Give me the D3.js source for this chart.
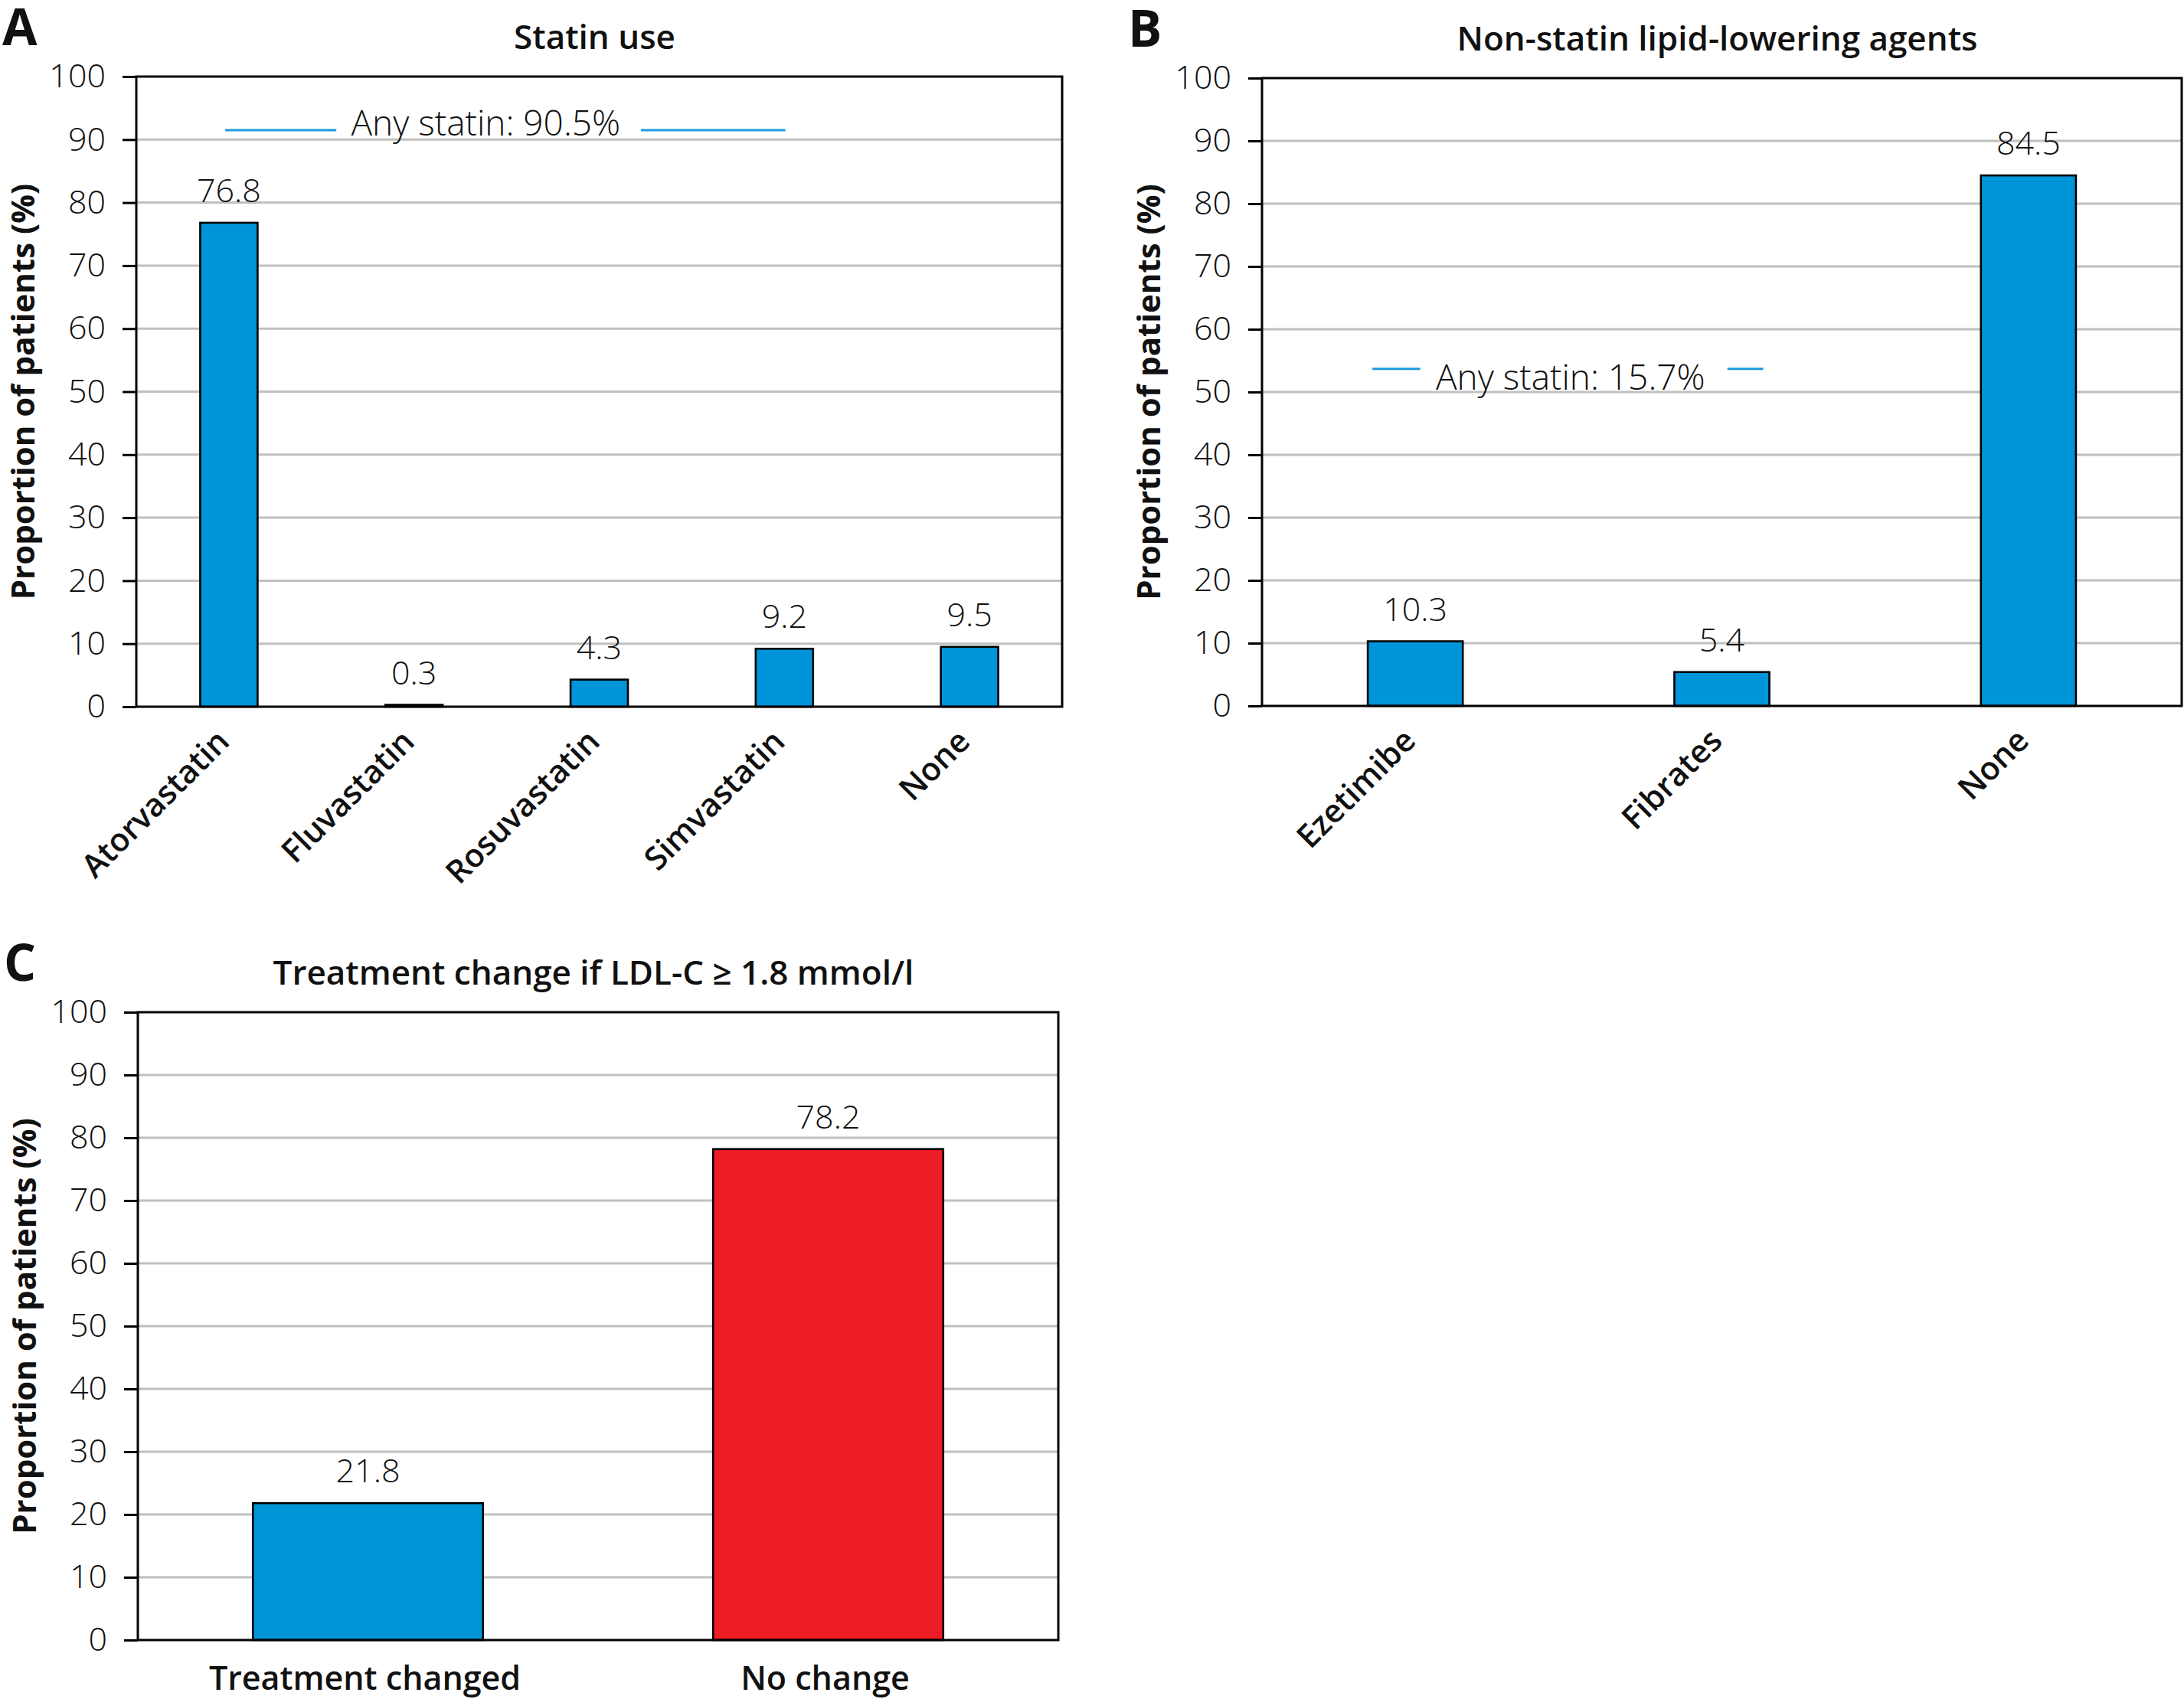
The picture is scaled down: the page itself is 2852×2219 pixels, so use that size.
<!DOCTYPE html>
<html>
<head>
<meta charset="utf-8">
<script src="https://cdn.jsdelivr.net/npm/d3@7"></script>
<style>
  body { margin: 0; background: #fff; }
  text { font-family: "Open Sans", sans-serif; fill: #111; }
</style>
</head>
<body>
<div id="chart"></div>
<script>
// values
var statinNames = ["Atorvastatin", "Fluvastatin", "Rosuvastatin", "Simvastatin", "None"];
var statinValues = [76.8, 0.3, 4.3, 9.2, 9.5];

var nonStatinNames = ["Ezetimibe", "Fibrates", "None"];
var nonStatinValues = [10.3, 5.4, 84.5];

var changeNames = ["Treatment changed", "No change"];
var changeValues = [21.8, 78.2];

var yTicks = [0, 10, 20, 30, 40, 50, 60, 70, 80, 90, 100];

var blue = "#0094d9", red = "#ed1c24", grid = "#c0c0c0", noteBlue = "#1b9bdb";

var width = 2852, height = 2219;

var svg = d3.select("#chart").append("svg")
    .attr("width", width)
    .attr("height", height);

function panel(p) {
    var g = svg.append("g");

    var x = d3.scaleBand()
        .domain(p.names)
        .range([p.x0, p.x1])
        .paddingInner(1 - p.barFrac)
        .paddingOuter((1 - p.barFrac) / 2);

    var y = d3.scaleLinear().domain([0, 100]).range([p.y1, p.y0]);

    // grid lines
    g.selectAll("line.grid")
        .data(yTicks.filter(function(d) { return d > 0 && d < 100; }))
        .enter().append("line")
        .attr("class", "grid")
        .attr("x1", p.x0).attr("x2", p.x1)
        .attr("y1", function(d) { return y(d); })
        .attr("y2", function(d) { return y(d); })
        .attr("stroke", grid)
        .attr("stroke-width", 3);

    // bars
    g.selectAll("rect.bar")
        .data(p.values)
        .enter().append("rect")
        .attr("class", "bar")
        .attr("x", function(d, i) { return x(p.names[i]); })
        .attr("width", x.bandwidth())
        .attr("y", function(d) { return y(d); })
        .attr("height", function(d) { return y(0) - y(d); })
        .attr("fill", function(d, i) { return p.colors ? p.colors[i] : blue; })
        .attr("stroke", "#000")
        .attr("stroke-width", 2.6);

    // value labels
    g.selectAll("text.val")
        .data(p.values)
        .enter().append("text")
        .attr("class", "val")
        .attr("x", function(d, i) { return x(p.names[i]) + x.bandwidth() / 2; })
        .attr("y", function(d) { return y(d) - 27; })
        .attr("text-anchor", "middle")
        .style("font-size", "43px")
        .style("font-weight", 300)
        .text(function(d) { return d.toFixed(1); });

    // frame
    g.append("rect")
        .attr("x", p.x0).attr("y", p.y0)
        .attr("width", p.x1 - p.x0).attr("height", p.y1 - p.y0)
        .attr("fill", "none")
        .attr("stroke", "#000")
        .attr("stroke-width", 3);

    // y axis
    var ax = g.append("g")
        .attr("transform", "translate(" + p.x0 + ",0)")
        .call(d3.axisLeft(y).tickValues(yTicks).tickSize(18).tickSizeOuter(0).tickPadding(22));
    ax.select(".domain").remove();
    ax.selectAll(".tick line").attr("stroke", "#000").attr("stroke-width", 3);
    ax.selectAll(".tick text")
        .attr("fill", "#111")
        .style("font-family", "'Open Sans', sans-serif")
        .style("font-size", "43px")
        .style("font-weight", 300);

    // y title
    g.append("text")
        .attr("transform", "translate(" + (p.x0 - 150) + "," + ((p.y0 + p.y1) / 2) + ") rotate(-90)")
        .attr("text-anchor", "middle")
        .attr("dominant-baseline", "central")
        .style("font-size", "42px")
        .style("font-weight", 700)
        .text("Proportion of patients (%)");

    // x labels
    var xl = g.selectAll("text.cat")
        .data(p.names)
        .enter().append("text")
        .attr("class", "cat")
        .style("font-size", p.rotate ? "42px" : "43px")
        .style("font-weight", 600)
        .text(function(d) { return d; });
    if (p.rotate) {
        xl.attr("text-anchor", "end")
          .attr("transform", function(d) {
              return "translate(" + (x(d) + x.bandwidth() / 2 + 3) + "," + (p.y1 + 48) + ") rotate(-45)";
          });
    } else {
        xl.attr("text-anchor", "middle")
          .attr("x", function(d) { return x(d) + x.bandwidth() / 2 - 4; })
          .attr("y", p.y1 + 65);
    }

    // panel title
    g.append("text")
        .attr("x", (p.x0 + p.x1) / 2 - 6)
        .attr("y", p.y0 - 36)
        .attr("text-anchor", "middle")
        .style("font-size", "44px")
        .style("font-weight", 600)
        .text(p.title);

    // panel letter
    g.append("text")
        .attr("x", p.x0 - 175)
        .attr("y", p.y0 - 41)
        .style("font-size", "66px")
        .style("font-weight", 700)
        .text(p.letter);

    // "Any statin" note
    if (p.note) {
        var fx = d3.scaleLinear().domain([0, 1]).range([p.x0, p.x1]);
        var n = p.note;
        g.append("line")
            .attr("x1", fx(n.line1[0])).attr("x2", fx(n.line1[1]))
            .attr("y1", y(n.lineAt)).attr("y2", y(n.lineAt))
            .attr("stroke", noteBlue).attr("stroke-width", 3);
        g.append("line")
            .attr("x1", fx(n.line2[0])).attr("x2", fx(n.line2[1]))
            .attr("y1", y(n.lineAt)).attr("y2", y(n.lineAt))
            .attr("stroke", noteBlue).attr("stroke-width", 3);
        g.append("text")
            .attr("x", fx(n.textAt))
            .attr("y", y(n.textBase))
            .style("font-size", "46px")
            .style("font-weight", 300)
            .text(n.label);
    }
}

panel({
    letter: "A", title: "Statin use",
    names: statinNames, values: statinValues,
    x0: 178, x1: 1387, y0: 100, y1: 923,
    barFrac: 0.31, rotate: true,
    note: { label: "Any statin: 90.5%", lineAt: 91.5, textBase: 90.6,
            line1: [0.096, 0.216], textAt: 0.232, line2: [0.545, 0.701] }
});

panel({
    letter: "B", title: "Non-statin lipid-lowering agents",
    names: nonStatinNames, values: nonStatinValues,
    x0: 1648, x1: 2849, y0: 102, y1: 922,
    barFrac: 0.31, rotate: true,
    note: { label: "Any statin: 15.7%", lineAt: 53.7, textBase: 50.4,
            line1: [0.120, 0.172], textAt: 0.189, line2: [0.506, 0.545] }
});

panel({
    letter: "C", title: "Treatment change if LDL-C \u2265 1.8 mmol/l",
    names: changeNames, values: changeValues, colors: [blue, red],
    x0: 180, x1: 1382, y0: 1322, y1: 2142,
    barFrac: 0.5, rotate: false
});
</script>
</body>
</html>
